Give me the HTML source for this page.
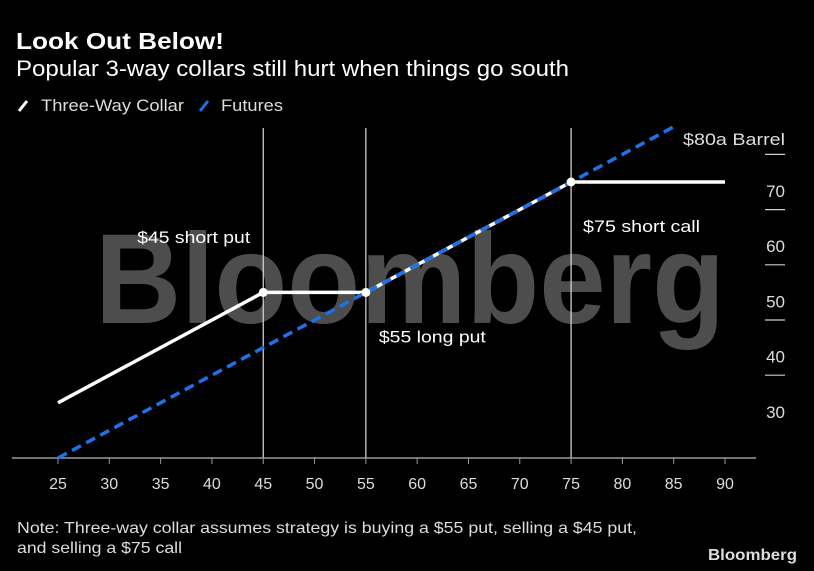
<!DOCTYPE html>
<html><head><meta charset="utf-8"><style>
body{margin:0;background:#000;}
svg{display:block;font-family:"Liberation Sans",sans-serif;}
</style></head><body>
<svg id="chart" width="814" height="571" viewBox="0 0 814 571">
<rect width="814" height="571" fill="#000"/>
<text x="16" y="49" fill="#fff" font-size="23" font-weight="bold" textLength="208" lengthAdjust="spacingAndGlyphs">Look Out Below!</text>
<text x="16" y="76" fill="#fff" font-size="22" textLength="553" lengthAdjust="spacingAndGlyphs">Popular 3-way collars still hurt when things go south</text>
<g>
<line x1="19" y1="111" x2="27" y2="101" stroke="#fff" stroke-width="3"/>
<text x="41" y="111" fill="#ddd" font-size="17" textLength="143" lengthAdjust="spacingAndGlyphs">Three-Way Collar</text>
<line x1="200" y1="111" x2="208" y2="101" stroke="#1a73e8" stroke-width="3"/>
<text x="221" y="111" fill="#ddd" font-size="17" textLength="62" lengthAdjust="spacingAndGlyphs">Futures</text>
</g>
<text x="410" y="323" text-anchor="middle" fill="#4d4d4d" font-size="128" font-weight="bold" textLength="630" lengthAdjust="spacingAndGlyphs">Bloomberg</text>
<g id="plot"></g>
<text x="17" y="533" fill="#ddd" font-size="16" textLength="620" lengthAdjust="spacingAndGlyphs">Note: Three-way collar assumes strategy is buying a $55 put, selling a $45 put,</text>
<text x="17" y="553" fill="#ddd" font-size="16" textLength="165" lengthAdjust="spacingAndGlyphs">and selling a $75 call</text>
<text x="797" y="560" text-anchor="end" fill="#ddd" font-size="16" font-weight="bold" textLength="89" lengthAdjust="spacingAndGlyphs">Bloomberg</text>
</svg>
<script>
const xTicks=[25,30,35,40,45,50,55,60,65,70,75,80,85,90];
const yTickLines=[35,45,55,65,75];
const yLabels=[30,40,50,60,70];
const collarX=[25,45,55,75,90];
const collarY=[30,50,50,70,70];
const futuresX=[25,85];
const futuresY=[20,80];
const strikes=[45,55,75];
const annotations=[{t:"$45 short put",x:45,y:60,dx:-126,w:113},{t:"$55 long put",x:55,y:42,dx:13,w:107},{t:"$75 short call",x:75,y:62,dx:12,w:117}];
const X=v=>58+(v-25)*(667/65);
const Y=v=>458-(v-20)*5.52;
const ns="http://www.w3.org/2000/svg";
const g=document.getElementById('plot');
function mk(tag,attrs){const e=document.createElementNS(ns,tag);for(const k in attrs)e.setAttribute(k,attrs[k]);g.appendChild(e);return e;}
strikes.forEach(s=>{const e=mk('line',{x1:X(s),x2:X(s),y1:128,y2:458,stroke:'#ddd','stroke-width':1.2});

});
let ax=mk('line',{x1:12,x2:756,y1:458,y2:458,stroke:'#999','stroke-width':1.5});


xTicks.forEach(v=>{const t=mk('line',{x1:X(v),x2:X(v),y1:458,y2:464,stroke:'#999'});


const l=mk('text',{x:X(v),y:489,'text-anchor':'middle',fill:'#ddd','font-size':16});l.textContent=v;

});
yTickLines.forEach(v=>{const t=mk('line',{x1:765,x2:785,y1:Y(v),y2:Y(v),stroke:'#ccc','stroke-width':1.2});

});
yLabels.forEach(v=>{const l=mk('text',{x:785,y:Y(v)+15,'text-anchor':'end',fill:'#ddd','font-size':17});l.textContent=v;

});
const yt=mk('text',{x:785,y:145,'text-anchor':'end',fill:'#ddd','font-size':17,textLength:102,lengthAdjust:'spacingAndGlyphs'});yt.textContent='$80a Barrel';


const cp=mk('polyline',{points:collarX.map((x,i)=>X(x)+','+Y(collarY[i])).join(' '),fill:'none',stroke:'#fff','stroke-width':3.5});


const fp=mk('polyline',{points:futuresX.map((x,i)=>X(x)+','+Y(futuresY[i])).join(' '),fill:'none',stroke:'#1a73e8','stroke-width':3.5,'stroke-dasharray':'10,6'});


collarX.slice(1,4).forEach((x,i)=>{const c=mk('circle',{cx:X(x),cy:Y(collarY[i+1]),r:4.5,fill:'#fff'});

});
annotations.forEach(a=>{const l=mk('text',{x:X(a.x)+a.dx,y:Y(a.y)+6,fill:'#fff','font-size':17,textLength:a.w,lengthAdjust:'spacingAndGlyphs'});l.textContent=a.t;

});
</script>
</body></html>
